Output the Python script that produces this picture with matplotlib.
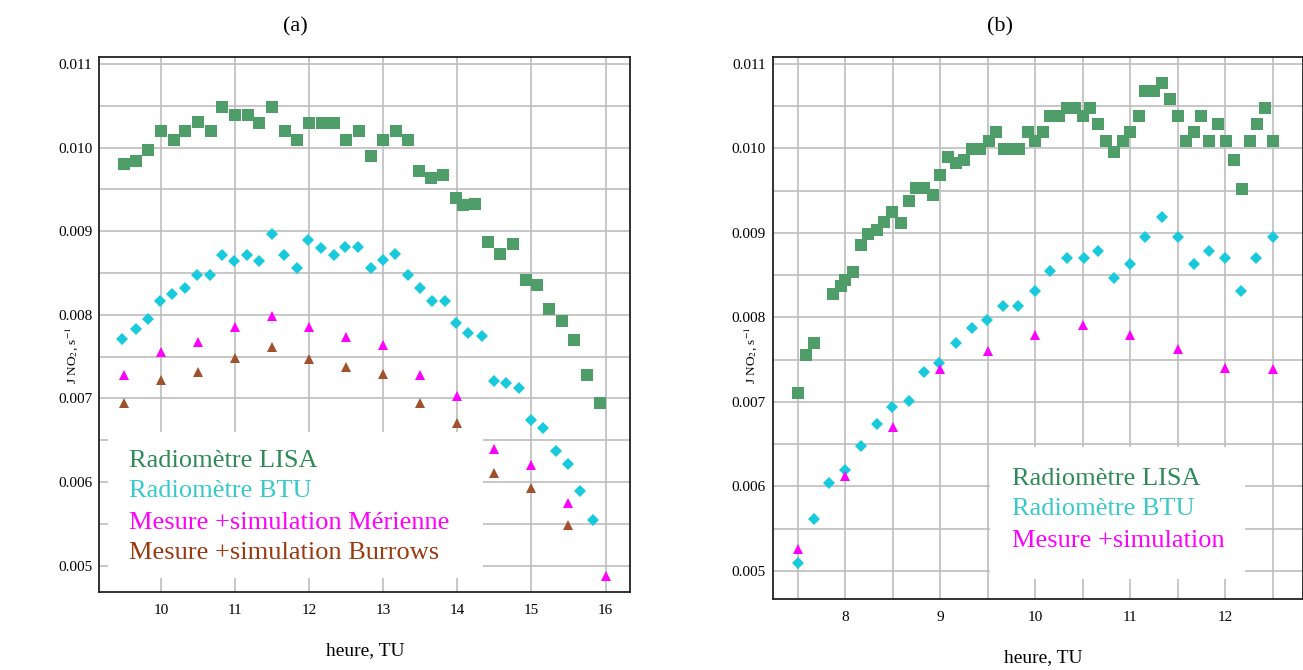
import matplotlib
matplotlib.use("Agg")
import matplotlib.pyplot as plt
from matplotlib.patches import Rectangle
from matplotlib.ticker import MultipleLocator, FormatStrFormatter

plt.rcParams['font.family'] = ['Liberation Serif', 'DejaVu Serif']
plt.rcParams['mathtext.fontset'] = 'stix'

# ---- panel (a) ----
a_lisa_t = [9.5, 9.67, 9.83, 10.0, 10.17, 10.33, 10.5, 10.67, 10.83, 11.0,
            11.17, 11.33, 11.5, 11.67, 11.83, 12.0, 12.17, 12.33, 12.5, 12.67,
            12.83, 13.0, 13.17, 13.33, 13.48, 13.65, 13.81, 13.98, 14.07, 14.24,
            14.41, 14.58, 14.75, 14.92, 15.07, 15.24, 15.41, 15.58, 15.75, 15.92]
a_lisa = [0.00980, 0.00984, 0.00997, 0.01020, 0.01009, 0.01020, 0.01030, 0.01020, 0.01049, 0.01039,
          0.01039, 0.01029, 0.01049, 0.01020, 0.01009, 0.01029, 0.01029, 0.01029, 0.01009, 0.01020,
          0.00990, 0.01009, 0.01020, 0.01009, 0.00972, 0.00964, 0.00967, 0.00940, 0.00931, 0.00933,
          0.00887, 0.00873, 0.00885, 0.00841, 0.00836, 0.00807, 0.00793, 0.00770, 0.00728, 0.00694]

a_btu_t = [9.48, 9.66, 9.82, 9.99, 10.15, 10.32, 10.49, 10.66, 10.83, 10.99,
           11.16, 11.32, 11.5, 11.66, 11.83, 11.99, 12.16, 12.33, 12.49, 12.66,
           12.83, 13.0, 13.16, 13.33, 13.49, 13.66, 13.83, 13.98, 14.15, 14.33,
           14.49, 14.66, 14.83, 14.99, 15.15, 15.33, 15.49, 15.66, 15.83]
a_btu = [0.00771, 0.00783, 0.00795, 0.00816, 0.00825, 0.00832, 0.00848, 0.00848, 0.00872, 0.00864,
         0.00872, 0.00864, 0.00897, 0.00872, 0.00856, 0.00889, 0.00880, 0.00872, 0.00881, 0.00881,
         0.00856, 0.00865, 0.00873, 0.00848, 0.00832, 0.00817, 0.00817, 0.00790, 0.00778, 0.00775,
         0.00721, 0.00718, 0.00713, 0.00674, 0.00665, 0.00637, 0.00622, 0.00589, 0.00555]

a_mer_t = [9.5, 10, 10.5, 11, 11.5, 12, 12.5, 13, 13.5, 14, 14.5, 15, 15.5, 16]
a_mer = [0.00728, 0.00755, 0.00767, 0.00785, 0.00798, 0.00785, 0.00774,
         0.00764, 0.00728, 0.00703, 0.00640, 0.00620, 0.00575, 0.00487]

a_bur_t = [9.5, 10, 10.5, 11, 11.5, 12, 12.5, 13, 13.5, 14, 14.5, 15, 15.5]
a_bur = [0.00694, 0.00722, 0.00732, 0.00748, 0.00761, 0.00747, 0.00738,
         0.00729, 0.00694, 0.00671, 0.00611, 0.00593, 0.00549]

# ---- panel (b) ----
b_lisa_t = [7.5, 7.58, 7.67, 7.87, 7.95, 8.0, 8.08, 8.16, 8.24, 8.33,
            8.41, 8.49, 8.58, 8.67, 8.74, 8.83, 8.92, 9.0, 9.08, 9.16,
            9.25, 9.33, 9.42, 9.51, 9.59, 9.67, 9.75, 9.83, 9.92, 10.0,
            10.08, 10.16, 10.25, 10.33, 10.42, 10.5, 10.58, 10.66, 10.75, 10.83,
            10.92, 11.0, 11.09, 11.16, 11.25, 11.34, 11.42, 11.5, 11.59, 11.67,
            11.75, 11.83, 11.92, 12.01, 12.09, 12.18, 12.26, 12.34, 12.42, 12.5]
b_lisa = [0.00711, 0.00756, 0.00770, 0.00828, 0.00837, 0.00844, 0.00854, 0.00886, 0.00899, 0.00903,
          0.00913, 0.00925, 0.00912, 0.00938, 0.00953, 0.00953, 0.00945, 0.00969, 0.00990, 0.00983,
          0.00986, 0.00999, 0.00999, 0.01009, 0.01019, 0.00999, 0.00999, 0.00999, 0.01019, 0.01009,
          0.01019, 0.01039, 0.01039, 0.01048, 0.01048, 0.01039, 0.01048, 0.01029, 0.01009, 0.00996,
          0.01009, 0.01019, 0.01039, 0.01068, 0.01068, 0.01078, 0.01059, 0.01039, 0.01009, 0.01019,
          0.01039, 0.01009, 0.01029, 0.01009, 0.00986, 0.00952, 0.01009, 0.01029, 0.01048, 0.01009]

b_btu_t = [7.5, 7.67, 7.83, 8.0, 8.16, 8.33, 8.49, 8.67, 8.83, 8.99,
           9.16, 9.33, 9.49, 9.66, 9.82, 10.0, 10.16, 10.33, 10.51, 10.66,
           10.83, 11.0, 11.16, 11.33, 11.5, 11.67, 11.83, 12.0, 12.17, 12.33, 12.5]
b_btu = [0.00509, 0.00562, 0.00604, 0.00620, 0.00648, 0.00674, 0.00694, 0.00701, 0.00736, 0.00746,
         0.00770, 0.00787, 0.00797, 0.00814, 0.00814, 0.00831, 0.00855, 0.00870, 0.00870, 0.00879,
         0.00847, 0.00863, 0.00895, 0.00919, 0.00895, 0.00863, 0.00879, 0.00870, 0.00831, 0.00870, 0.00895]

b_mer_t = [7.5, 8.0, 8.5, 9.0, 9.5, 10.0, 10.5, 11.0, 11.5, 12.0, 12.5]
b_mer = [0.00526, 0.00612, 0.00670, 0.00739, 0.00760, 0.00779, 0.00791,
         0.00779, 0.00763, 0.00740, 0.00739]

c_lisa = '#4f9d69'
c_btu = '#18cadc'
c_mer = '#ff00ff'
c_bur = '#a0522d'
t_lisa = '#2e8b57'
t_btu = '#38c9c9'
t_bur = '#993a10'

fig = plt.figure(figsize=(13.03, 6.70), dpi=100)
ax1 = fig.add_axes([0.0762, 0.1169, 0.4073, 0.7985])
ax2 = fig.add_axes([0.5930, 0.1060, 0.4073, 0.8094])


def style(ax, xmin, xmax, ymin, ymax, xminor):
    ax.set_xlim(xmin, xmax)
    ax.set_ylim(ymin, ymax)
    ax.xaxis.set_major_locator(MultipleLocator(1))
    ax.xaxis.set_minor_locator(MultipleLocator(xminor))
    ax.yaxis.set_major_locator(MultipleLocator(0.001))
    ax.yaxis.set_minor_locator(MultipleLocator(0.0005))
    ax.yaxis.set_major_formatter(FormatStrFormatter('%.3f'))
    ax.set_axisbelow(True)
    ax.grid(True, which='both', color='#bdbdbd', lw=1.2, zorder=0.5)
    ax.tick_params(which='both', length=0, labelsize=11)
    ax.tick_params(axis='x', pad=9)
    ax.tick_params(axis='y', pad=5)
    for s in ax.spines.values():
        s.set_color('#222222')
        s.set_linewidth(1.3)
    ax.set_xlabel('heure, TU', fontsize=14)
    ax.set_ylabel(r'J NO$_2$, s$^{-1}$', fontsize=9.5)


style(ax1, 9.168, 16.33, 0.004688, 0.011087, 1)
style(ax2, 7.233, 12.825, 0.004669, 0.011086, 0.5)

ax1.add_patch(Rectangle((0.0164, 0.0256), 0.7066, 0.2734, transform=ax1.transAxes,
                        facecolor='white', edgecolor='none', zorder=1))
ax2.add_patch(Rectangle((0.4095, 0.0369), 0.4805, 0.2439, transform=ax2.transAxes,
                        facecolor='white', edgecolor='none', zorder=1))

mk = dict(linestyle='none', markeredgewidth=0, zorder=3)
ax1.plot(a_lisa_t, a_lisa, 's', color=c_lisa, markersize=8.6, **mk)
ax1.plot(a_btu_t, a_btu, 'D', color=c_btu, markersize=6.0, **mk)
ax1.plot(a_mer_t, a_mer, '^', color=c_mer, markersize=7.2, **mk)
ax1.plot(a_bur_t, a_bur, '^', color=c_bur, markersize=7.2, **mk)

ax2.plot(b_lisa_t, b_lisa, 's', color=c_lisa, markersize=8.6, **mk)
ax2.plot(b_btu_t, b_btu, 'D', color=c_btu, markersize=6.0, **mk)
ax2.plot(b_mer_t, b_mer, '^', color=c_mer, markersize=7.2, **mk)

ax1.xaxis.set_label_coords(0.5007, -0.094)
ax1.yaxis.set_label_coords(-0.036, 0.442)
ax2.xaxis.set_label_coords(0.5093, -0.093)
ax2.yaxis.set_label_coords(-0.026, 0.45)

fs = 19
for txt, col, yy in [('Radiomètre LISA', t_lisa, 0.2336),
                     ('Radiomètre BTU', t_btu, 0.1776),
                     ('Mesure +simulation Mérienne', c_mer, 0.1166),
                     ('Mesure +simulation Burrows', t_bur, 0.0606)]:
    ax1.text(0.0565, yy, txt, color=col, fontsize=fs, transform=ax1.transAxes,
             va='baseline', ha='left', zorder=4)

for txt, col, yy in [('Radiomètre LISA', t_lisa, 0.2102),
                     ('Radiomètre BTU', t_btu, 0.1549),
                     ('Mesure +simulation', c_mer, 0.0964)]:
    ax2.text(0.4503, yy, txt, color=col, fontsize=fs, transform=ax2.transAxes,
             va='baseline', ha='left', zorder=4)

fig.text(295.8 / 1303, 1 - 26.7 / 670, '(a)', fontsize=16, ha='center', va='center')
fig.text(1000 / 1303, 1 - 26.7 / 670, '(b)', fontsize=16, ha='center', va='center')

fig.savefig('out.png', dpi=100)
